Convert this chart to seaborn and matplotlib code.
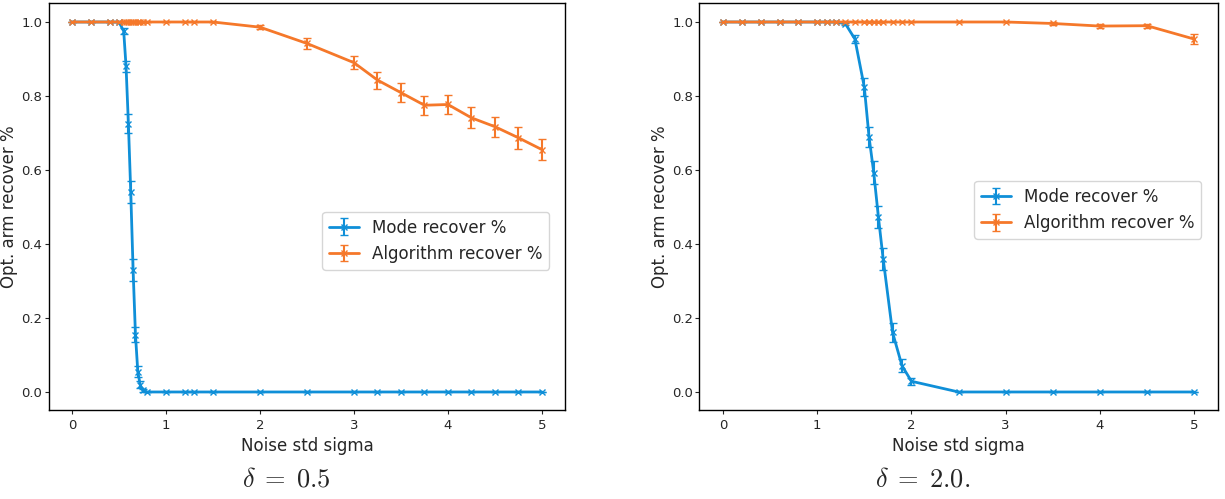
import matplotlib
matplotlib.use("Agg")
import matplotlib.pyplot as plt
import seaborn as sns
import numpy as np

# ---------------- data: delta = 0.5 ----------------
sigma_a = [0, 0.2, 0.4, 0.5, 0.55, 0.575, 0.6, 0.625, 0.65, 0.675, 0.7, 0.725, 0.75,
           0.8, 1.0, 1.2, 1.3, 1.5, 2.0, 2.5, 3.0, 3.25, 3.5, 3.75, 4.0, 4.25, 4.5, 4.75, 5.0]
mode_a = [1.0, 1.0, 1.0, 1.0, 0.975, 0.88, 0.725, 0.54, 0.33, 0.155, 0.055, 0.02, 0.005,
          0, 0, 0, 0, 0, 0, 0, 0, 0, 0, 0, 0, 0, 0, 0, 0]
mode_a_err = [0, 0, 0, 0, 0.008, 0.015, 0.025, 0.03, 0.03, 0.02, 0.015, 0.01, 0.004,
              0, 0, 0, 0, 0, 0, 0, 0, 0, 0, 0, 0, 0, 0, 0, 0]
algo_a = [1.0, 1.0, 1.0, 1.0, 1.0, 1.0, 1.0, 1.0, 1.0, 1.0, 1.0, 1.0, 1.0,
          1.0, 1.0, 1.0, 1.0, 1.0, 0.986, 0.942, 0.89, 0.843, 0.809, 0.775, 0.777,
          0.741, 0.717, 0.687, 0.655]
algo_a_err = [0, 0, 0, 0, 0, 0, 0, 0, 0, 0, 0, 0, 0,
              0, 0, 0, 0, 0, 0.006, 0.014, 0.018, 0.023, 0.025, 0.026, 0.026,
              0.028, 0.027, 0.029, 0.029]

# ---------------- data: delta = 2.0 ----------------
sigma_b = [0, 0.2, 0.4, 0.6, 0.8, 1.0, 1.1, 1.2, 1.3, 1.4, 1.5, 1.55, 1.6, 1.65, 1.7,
           1.8, 1.9, 2.0, 2.5, 3.0, 3.5, 4.0, 4.5, 5.0]
mode_b = [1.0, 1.0, 1.0, 1.0, 1.0, 1.0, 1.0, 1.0, 0.995, 0.954, 0.824, 0.69, 0.593,
          0.472, 0.36, 0.161, 0.071, 0.029, 0, 0, 0, 0, 0, 0]
mode_b_err = [0, 0, 0, 0, 0, 0, 0, 0, 0.003, 0.012, 0.025, 0.027, 0.03, 0.03, 0.03,
              0.025, 0.018, 0.01, 0, 0, 0, 0, 0, 0]
algo_b = [1.0] * 20 + [0.996, 0.989, 0.99, 0.954]
algo_b_err = [0] * 20 + [0.003, 0.006, 0.005, 0.013]

panels = [
    (sigma_a, mode_a, mode_a_err, algo_a, algo_a_err, r"$\delta\; =\; 0.5$", 0.234, 0.417),
    (sigma_b, mode_b, mode_b_err, algo_b, algo_b_err, r"$\delta\; =\; 2.0.$", 0.753, 0.493),
]

BLUE = "#0f8fd8"
ORANGE = "#f5782a"

sns.set_style("ticks")
plt.rcParams["mathtext.fontset"] = "cm"
plt.rcParams["font.family"] = ["DejaVu Sans"]

fig = plt.figure(figsize=(12.25, 4.99), dpi=100)
positions = [[0.0396, 0.1774, 0.422, 0.8156], [0.571, 0.1774, 0.4229, 0.8156]]

for pos, (sx, md, mde, al, ale, label, tx, ly) in zip(positions, panels):
    ax = fig.add_axes(pos)
    ax.errorbar(sx, md, yerr=mde, color=BLUE, marker="x", markersize=4,
                linewidth=2, elinewidth=1.5, capsize=3, label="Mode recover %")
    ax.errorbar(sx, al, yerr=ale, color=ORANGE, marker="x", markersize=4,
                linewidth=2, elinewidth=1.5, capsize=3, label="Algorithm recover %")
    ax.set_xlim(-0.25, 5.25)
    ax.set_ylim(-0.05, 1.05)
    ax.set_xticks([0, 1, 2, 3, 4, 5])
    ax.set_yticks([0.0, 0.2, 0.4, 0.6, 0.8, 1.0])
    ax.tick_params(axis="x", labelsize=9.5, length=3, pad=3)
    ax.tick_params(axis="y", labelsize=9.5, length=3, pad=1.5)
    ax.set_xlabel("Noise std sigma", fontsize=12)
    ax.set_ylabel("Opt. arm recover %", fontsize=12, labelpad=2)
    for sp in ax.spines.values():
        sp.set_color("black")
        sp.set_linewidth(1)
    ax.legend(loc="center right", bbox_to_anchor=(0.985, ly), fontsize=12,
              handlelength=1.8, frameon=True)
    fig.text(tx, 0.04, label, fontsize=19, ha="center", va="center")

fig.savefig("out.png", dpi=100)
